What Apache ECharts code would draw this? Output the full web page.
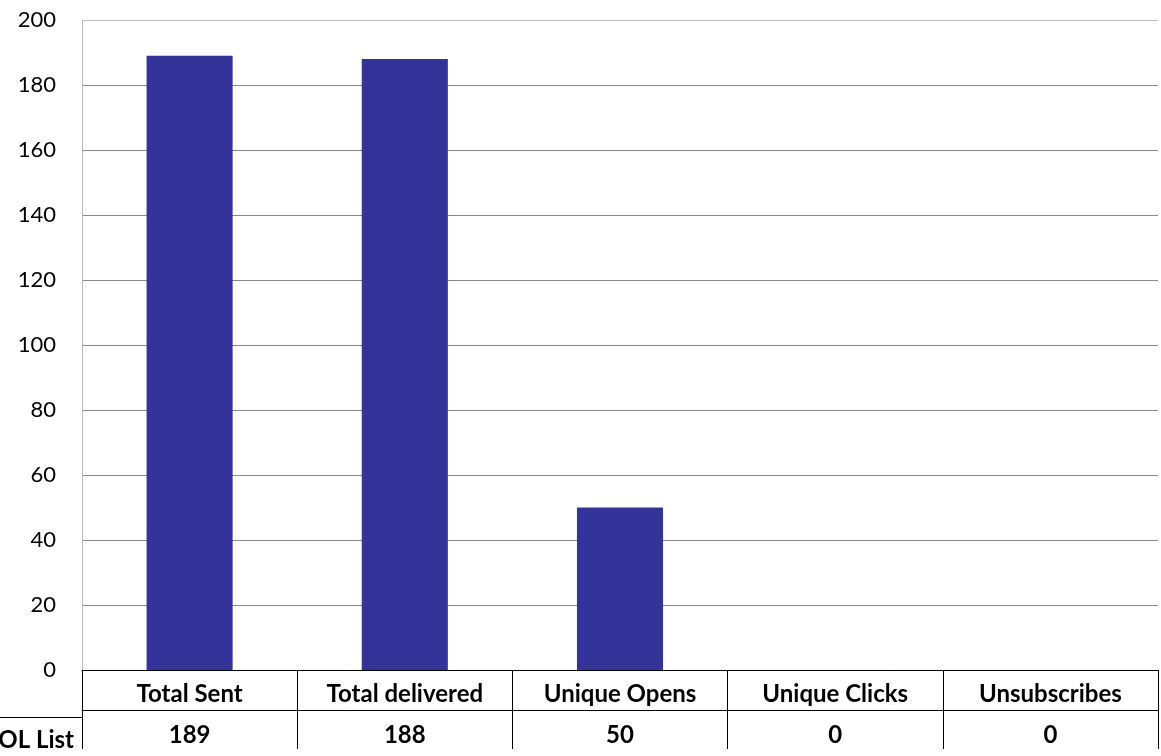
<!DOCTYPE html>
<html>
<head>
<meta charset="utf-8">
<script src="https://cdn.jsdelivr.net/npm/echarts@6/dist/echarts.min.js"></script>
<style>
html,body{margin:0;padding:0;background:#fff;}
#chart{width:1161px;height:756px;}
</style>
</head>
<body>
<div id="chart"></div>
<script>
const categories = ['Total Sent', 'Total delivered', 'Unique Opens', 'Unique Clicks', 'Unsubscribes'];
const values = [189, 188, 50, 0, 0];
const seriesName = 'COL List';
const yTicks = { min: 0, max: 200, interval: 20 };

const FONT = 'Lato, "Open Sans", sans-serif';
const chart = echarts.init(document.getElementById('chart'), null, { renderer: 'canvas' });

const gridColors = [];
for (let i = 0; i <= 10; i++) gridColors.push(i === 10 ? '#c0c0c0' : '#898989');

chart.setOption({
  animation: false,
  backgroundColor: '#ffffff',
  grid: { left: 82, right: 3, top: 20, bottom: 79, containLabel: false },
  xAxis: [
    {
      type: 'category',
      data: categories,
      position: 'bottom',
      axisLine: { show: true, lineStyle: { color: '#000', width: 1 } },
      axisTick: { show: true, interval: 0, length: 79, lineStyle: { color: '#000', width: 1 } },
      axisLabel: {
        interval: 0, margin: 4, lineHeight: 40, fontSize: 24, fontWeight: 'bold',
        color: '#000', fontFamily: FONT
      },
      splitLine: { show: false }
    },
    {
      type: 'category',
      data: values.map(v => String(v)),
      position: 'bottom',
      offset: 40,
      axisLine: { show: true, lineStyle: { color: '#000', width: 1 } },
      axisTick: { show: false },
      axisLabel: {
        interval: 0, margin: 4, lineHeight: 42, fontSize: 24, fontWeight: 'bold',
        color: '#000', fontFamily: FONT
      },
      splitLine: { show: false }
    }
  ],
  yAxis: {
    type: 'value',
    min: yTicks.min, max: yTicks.max, interval: yTicks.interval,
    axisLine: { show: true, lineStyle: { color: '#b8b8b8', width: 1 } },
    axisTick: { show: false },
    axisLabel: { margin: 26, fontSize: 22, color: '#000', fontFamily: FONT },
    splitLine: { show: true, lineStyle: { color: gridColors, width: 1 } }
  },
  series: [{
    name: seriesName,
    type: 'bar',
    data: values,
    barWidth: '40%',
    itemStyle: { color: '#333399' }
  }],
  graphic: [
    { type: 'line', shape: { x1: 0, y1: 717.5, x2: 82, y2: 717.5 }, style: { stroke: '#000', lineWidth: 1 }, silent: true },
    { type: 'text', x: 74, y: 740, style: { text: seriesName, fontSize: 24, fontWeight: 'bold', fill: '#000', fontFamily: FONT, textAlign: 'right', textVerticalAlign: 'middle' }, silent: true }
  ]
});
</script>
</body>
</html>
